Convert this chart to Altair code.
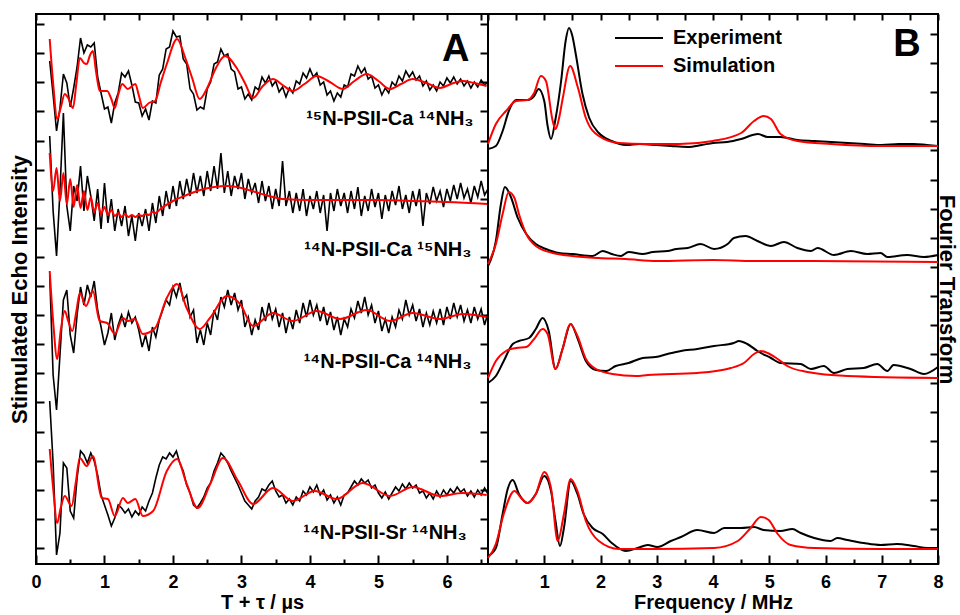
import altair as alt
import numpy as np
import pandas as pd

FONT = "Liberation Sans"

# ---------------- Panel A : time domain (stimulated echo) ----------------
trace_names = ["15N-PSII-Ca 14NH3", "14N-PSII-Ca 15NH3", "14N-PSII-Ca 14NH3", "14N-PSII-Sr 14NH3"]
trace_baseline = [481, 363, 249, 71]          # vertical offset of each trace (a.u.)

t_start, t_step = 0.20, 0.05                  # sampling of the experimental traces (us)

exp1 = [22, -12, -48, -25, 9, 0, -24, -5, 16, 45,
        30, 38, 36, 40, 6, -10, -26, -24, -40, -20,
        -10, 10, 6, 12, -2, -19, -20, -33, -26, -37,
        -18, -20, 8, 14, 34, 36, 52, 46, 47, 24,
        19, -6, -11, -27, -24, -26, -6, 1, 19, 21,
        34, 27, 29, 14, 11, -6, -4, -16, -11, -17,
        -4, -7, 6, 0, 7, -3, 2, -9, -4, -14,
        -5, -10, 2, -1, 10, 5, 14, 6, 10, -2,
        1, -12, -8, -18, -10, -14, -2, -4, 9, 7,
        17, 10, 15, 4, 7, -5, -2, -12, -5, -10,
        1, -3, 7, 2, 12, 6, 11, 3, 7, -3,
        2, -7, -2, -8, 1, -3, 5, 0, 6, -1,
        4, -3, 2, -5, 1, -4, 3, -2, 1]
exp2 = [65, -10, -55, 10, 88, -5, -30, 15, 0, 35,
        -10, 25, 5, -20, 12, -28, 18, -22, 2, -30,
        -8, -25, -5, -35, -15, -40, -12, -25, -8, -30,
        -2, -22, 5, -15, 10, -8, 15, -5, 20, 2,
        22, 5, 28, 8, 25, 5, 30, 10, 35, 12,
        48, 8, 30, 5, 25, 12, 28, 2, 22, 8,
        18, -2, 20, 0, 15, -8, 12, -5, 40, -5,
        10, -12, 8, -10, 12, -15, 5, -8, 10, -12,
        6, -30, 8, -10, 12, -5, 8, -12, 10, -8,
        14, -15, 5, -10, 12, -6, 8, -18, 6, -10,
        10, -4, 15, -8, 6, -12, 10, -5, 12, -25,
        8, -3, 14, 0, 10, -6, 12, 0, 16, 2,
        18, 3, 12, -2, 15, 4, 20, 6, 12]
exp3 = [40, -60, -95, -40, 15, 25, -20, -38, 0, 28,
        10, 30, 18, 34, 5, -12, -30, -18, 2, -25,
        -10, 0, -12, 3, -8, -2, -15, -32, -20, -36,
        -12, -22, -5, 5, 15, 10, 28, 18, 32, 15,
        20, -2, 5, -28, -15, -30, -8, -20, 5, -5,
        18, 8, 25, 10, 22, 5, 15, -12, -2, -20,
        -5, -15, 8, -6, 12, -4, 6, -12, 2, -18,
        -2, -14, 5, -8, 12, -2, 15, 0, 10, -6,
        8, -10, 3, -15, -2, -20, -4, -12, 6, -3,
        14, 2, 18, 0, 10, -8, 4, -16, -4, -18,
        -2, -12, 5, -4, 15, 0, 10, -6, 6, -12,
        2, -10, 4, -8, 6, -10, 8, -4, 12, -2,
        10, -6, 5, -8, 8, -4, 6, -10, 2]
exp4 = [92, 30, -62, -40, 30, 25, -18, -25, 15, 42,
        38, 30, 40, 32, 18, -2, -12, -22, -33, -25,
        -12, -15, -20, -16, -24, -18, -22, -14, -18, -8,
        0, 15, 28, 36, 34, 40, 36, 42, 30, 22,
        8, 0, -12, -15, -10, -4, 5, 10, 22, 30,
        40, 36, 30, 22, 15, 8, 0, -8, -12, -16,
        -8, -4, 4, 2, 8, 12, 2, -4, -2, -10,
        -6, -12, -4, -8, 2, -2, 6, 1, 8, -2,
        3, -7, -2, -10, -4, -12, -2, 0, 6, 12,
        8, 14, 10, 13, 5, 8, 0, -5, 1, -6,
        0, 6, 2, 9, 4, 10, 5, 8, 0, 2,
        -5, 0, -6, 2, -4, 3, -2, 4, 0, 6,
        1, 4, -3, 2, -4, 3, -2, 5, -1]

sim1_t = [0.20, 0.25, 0.31, 0.36, 0.42, 0.47, 0.54, 0.59, 0.64, 0.70,
          0.74, 0.79, 0.83, 0.88, 0.93, 1.04, 1.10, 1.15, 1.20, 1.26,
          1.34, 1.45, 1.50, 1.56, 1.65, 1.74, 1.82, 1.91, 2.06, 2.18,
          2.28, 2.39, 2.50, 2.62, 2.76, 2.93, 3.05, 3.17, 3.30, 3.46,
          3.60, 3.75, 3.92, 4.10, 4.29, 4.48, 4.65, 4.83, 5.00, 5.17,
          5.33, 5.50, 5.70, 5.90, 6.06, 6.23, 6.40, 6.58]
sim1 = [44, 0, -36, -25, -11, -15, -25, 0, 25, 20,
        19, 28, 32, 10, -8, -8, -16, -25, -12, -1,
        -6, -1, -12, -25, -20, -18, 0, 19, 44, 25,
        5, -16, -5, 14, 27, 15, 0, -15, -4, 4,
        -2, -8, -1, 7, 1, -6, 2, 9, 2, -6,
        -1, 4, 0, -5, -1, 2, 0, -3]
sim2_t = [0.20, 0.25, 0.30, 0.35, 0.40, 0.45, 0.50, 0.55, 0.60, 0.65,
          0.70, 0.75, 0.80, 0.85, 0.90, 0.95, 1.00, 1.05, 1.10, 1.15,
          1.20, 1.25, 1.30, 1.35, 1.40, 1.45, 1.50, 1.55, 1.60, 1.65,
          1.70, 1.75, 1.80, 2.00, 2.20, 2.40, 2.60, 2.80, 3.00, 3.20,
          3.40, 3.60, 4.00, 4.50, 5.00, 5.50, 6.00, 6.60]
sim2 = [48, 10, 33, 0, 28, -3, 22, -6, 16, -7,
        10, -9, 4, -11, -2, -13, -6, -14, -9, -15,
        -12, -16, -13, -16, -14, -16, -14, -15, -13, -14,
        -11, -12, -9, 0, 6, 11, 14, 15, 13, 9,
        5, 2, 1, 1, 1, 0, -1, -3]
sim3_t = [0.20, 0.25, 0.31, 0.36, 0.42, 0.47, 0.53, 0.59, 0.64, 0.73,
          0.83, 0.93, 1.04, 1.15, 1.27, 1.34, 1.44, 1.56, 1.74, 1.91,
          2.06, 2.20, 2.39, 2.54, 2.79, 2.98, 3.17, 3.46, 3.75, 4.10,
          4.44, 4.83, 5.17, 5.50, 5.90, 6.23, 6.58]
sim3 = [44, -6, -44, -16, 4, -6, -16, 4, 22, 9,
        24, -6, -8, -19, -3, -6, -4, -19, -13, 17,
        31, 7, -14, -3, 19, 11, -11, 2, -6, 4,
        -4, 5, -6, 2, -4, 1, -2]
sim4_t = [0.20, 0.25, 0.31, 0.36, 0.42, 0.52, 0.58, 0.64, 0.74, 0.83,
          0.96, 1.05, 1.15, 1.27, 1.34, 1.45, 1.56, 1.71, 1.91, 2.06,
          2.20, 2.36, 2.55, 2.73, 2.95, 3.17, 3.46, 3.75, 4.07, 4.39,
          4.77, 5.17, 5.50, 5.90, 6.23, 6.58]
sim4 = [44, 5, -30, -15, -3, -13, 10, 35, 27, 37,
        -5, -6, -23, -5, -10, -6, -23, -18, 22, 34,
        9, -15, 10, 35, 12, -11, 5, -8, 2, -6,
        10, -3, 6, -3, 0, -2]

sample_labels = ["¹⁵N-PSII-Ca ¹⁴NH₃", "¹⁴N-PSII-Ca ¹⁵NH₃", "¹⁴N-PSII-Ca ¹⁴NH₃", "¹⁴N-PSII-Sr ¹⁴NH₃"]

# ---------------- Panel B : Fourier transforms ----------------
ftA_exp_f = [0.0, 0.14, 0.26, 0.37, 0.5, 0.7, 0.82, 0.9, 1.0, 1.06, 1.12, 1.2, 1.3, 1.38, 1.44, 1.5, 1.56,
             1.68, 1.8, 1.97, 2.2, 2.45, 2.7, 3.0, 3.25, 3.55, 3.8, 4.0, 4.25, 4.5, 4.8, 4.97, 5.2, 5.5,
             5.8, 6.1, 6.4, 6.7, 7.0, 7.3, 7.57, 7.8, 8.0]
ftA_exp = [415, 418, 433, 453, 464, 464, 468, 475, 463, 438, 425, 445, 483, 523, 536, 528, 510,
           470, 446, 431, 423, 419, 420, 419, 418, 417, 419, 421, 422, 425, 430, 427, 427, 424,
           423, 422, 421, 420, 419, 420, 420, 419, 418]
ftA_sim_f = [0.0, 0.14, 0.32, 0.5, 0.7, 0.82, 0.94, 1.03, 1.15, 1.2, 1.26, 1.33, 1.46, 1.6, 1.74, 1.97,
             2.33, 2.8, 3.4, 4.0, 4.5, 4.73, 4.9, 5.03, 5.2, 5.5, 6.1, 7.0, 8.0]
ftA_sim = [420, 440, 453, 463, 464, 471, 488, 483, 443, 435, 445, 466, 498, 476, 446, 428,
           421, 420, 420, 423, 431, 443, 448, 445, 430, 423, 420, 418, 418]

ftB_exp_f = [0.0, 0.14, 0.23, 0.3, 0.4, 0.53, 0.68, 0.85, 1.03, 1.26, 1.5, 1.86, 2.04, 2.2, 2.36, 2.5,
             2.75, 2.93, 3.19, 3.35, 3.55, 3.78, 4.02, 4.26, 4.37, 4.58, 4.79, 5.03, 5.26, 5.5, 5.74,
             5.86, 6.15, 6.45, 6.74, 6.98, 7.1, 7.45, 7.75, 8.0]
ftB_exp = [298, 323, 360, 377, 368, 346, 330, 320, 315, 311, 310, 308, 313, 310, 308, 312,
           310, 312, 313, 315, 316, 320, 315, 320, 326, 328, 323, 318, 322, 316, 313,
           316, 309, 313, 310, 311, 307, 309, 307, 309]
ftB_sim_f = [0.0, 0.14, 0.26, 0.37, 0.47, 0.55, 0.68, 0.85, 1.15, 1.5, 1.97, 2.45, 3.0, 4.0, 4.73, 5.8, 8.0]
ftB_sim = [300, 320, 350, 372, 366, 350, 330, 318, 311, 308, 306, 305, 303, 304, 303, 303, 302]

ftC_exp_f = [0.0, 0.14, 0.28, 0.44, 0.55, 0.73, 0.85, 0.97, 1.08, 1.2, 1.33, 1.47, 1.59, 1.74, 1.92, 2.1,
             2.27, 2.5, 2.75, 2.98, 3.19, 3.43, 3.72, 4.02, 4.37, 4.46, 4.61, 4.79, 5.03, 5.2, 5.56,
             5.74, 5.97, 6.15, 6.39, 6.68, 6.92, 7.1, 7.21, 7.51, 7.75, 8.0]
ftC_exp = [181, 188, 203, 220, 223, 226, 235, 246, 233, 195, 216, 240, 226, 203, 194, 193,
           198, 201, 206, 207, 210, 213, 215, 218, 221, 223, 220, 213, 206, 201, 200,
           195, 198, 191, 195, 196, 200, 193, 199, 195, 190, 197]
ftC_sim_f = [0.0, 0.14, 0.32, 0.5, 0.68, 0.82, 0.97, 1.06, 1.2, 1.33, 1.46, 1.59, 1.74, 1.92, 2.21, 2.63,
             2.84, 3.72, 4.32, 4.55, 4.73, 4.85, 4.97, 5.15, 5.32, 5.68, 6.39, 8.0]
ftC_sim = [186, 203, 213, 216, 217, 225, 235, 230, 195, 216, 240, 228, 205, 195, 190, 188,
           189, 191, 196, 201, 210, 213, 211, 205, 198, 192, 188, 186]

ftD_exp_f = [0.0, 0.14, 0.26, 0.35, 0.44, 0.55, 0.7, 0.85, 1.0, 1.12, 1.2, 1.28, 1.35, 1.47, 1.59, 1.7,
             1.86, 2.04, 2.2, 2.45, 2.66, 2.84, 3.01, 3.25, 3.43, 3.72, 4.02, 4.2, 4.5, 4.73, 4.9, 5.2,
             5.41, 5.56, 5.8, 6.09, 6.21, 6.39, 6.68, 6.98, 7.27, 7.57, 7.81, 8.0]
ftD_exp = [8, 16, 50, 75, 84, 70, 61, 70, 88, 73, 43, 18, 36, 83, 70, 50,
           36, 30, 21, 13, 16, 19, 17, 23, 27, 34, 31, 36, 36, 37, 34, 33,
           35, 31, 26, 23, 26, 24, 21, 19, 20, 18, 16, 16]
ftD_sim_f = [0.0, 0.14, 0.28, 0.47, 0.59, 0.7, 0.85, 1.0, 1.12, 1.24, 1.35, 1.47, 1.59, 1.74, 1.97, 2.33,
             2.92, 4.02, 4.44, 4.67, 4.85, 4.99, 5.15, 5.38, 5.8, 6.98, 8.0]
ftD_sim = [6, 20, 50, 73, 66, 61, 70, 92, 76, 23, 50, 85, 73, 43, 23, 15,
           15, 16, 23, 36, 47, 44, 30, 19, 16, 15, 15]

series_names = ["Experiment", "Simulation"]
x_ticks_A = [0, 1, 2, 3, 4, 5, 6]
x_ticks_B = [1, 2, 3, 4, 5, 6, 7, 8]

# ---------------- tables ----------------
rows = []
for name, base, vals in zip(trace_names, trace_baseline, [exp1, exp2, exp3, exp4]):
    for i, d in enumerate(vals):
        rows.append({"t": round(t_start + t_step * i, 3), "v": base + d, "trace": name})
df_exp = pd.DataFrame(rows)

rows = []
for name, base, ts, vals in zip(trace_names, trace_baseline,
                                [sim1_t, sim2_t, sim3_t, sim4_t], [sim1, sim2, sim3, sim4]):
    for t, d in zip(ts, vals):
        rows.append({"t": t, "v": base + d, "trace": name})
df_sim = pd.DataFrame(rows)

df_lab = pd.DataFrame({"text": sample_labels,
                       "t": [6.39, 6.36, 6.36, 6.29],
                       "v": [439, 308, 196, 25]})
df_A = pd.DataFrame({"text": ["A"], "t": [6.13], "v": [503]})

rows = []
for name, fe, ve, fs, vs in zip(trace_names,
                                [ftA_exp_f, ftB_exp_f, ftC_exp_f, ftD_exp_f],
                                [ftA_exp, ftB_exp, ftC_exp, ftD_exp],
                                [ftA_sim_f, ftB_sim_f, ftC_sim_f, ftD_sim_f],
                                [ftA_sim, ftB_sim, ftC_sim, ftD_sim]):
    for f, v in zip(fe, ve):
        rows.append({"f": f, "v": v, "trace": name, "series": "Experiment"})
    for f, v in zip(fs, vs):
        rows.append({"f": f, "v": v, "trace": name, "series": "Simulation"})
df_ft = pd.DataFrame(rows)
df_B = pd.DataFrame({"text": ["B"], "f": [7.45], "v": [508]})

# ---------------- scales / axes ----------------
W_L, W_R, H = 452, 450, 550
sx_A = alt.Scale(domain=[0, 6.6], nice=False, zero=False)
sx_B = alt.Scale(domain=[0, 8], nice=False, zero=False)
sy = alt.Scale(domain=[0, 550], nice=False, zero=False)
y_ticks_left = [round(16 + 29.1 * k, 1) for k in range(19)]
y_ticks_right = [round(35.3 + 29.1 * k, 1) for k in range(18)]
half_A = [k * 0.5 for k in range(14)]
half_B = [k * 0.5 for k in range(17)]
minor_A = [k + 0.5 for k in range(7)]
minor_B = [k + 0.5 for k in range(8)]
color_scale = alt.Scale(domain=series_names, range=["black", "#ff0000"])

def ax(orient, values, size, **kw):
    return alt.Axis(orient=orient, values=values, tickSize=size, offset=-size, domain=False,
                    grid=False, tickColor="black", tickWidth=2, labelFlush=False,
                    labelOverlap=False, **kw)

# ---- left panel
a_black = alt.Chart(df_exp).mark_line(color="black", strokeWidth=1.6).encode(
    x=alt.X("t:Q", scale=sx_A,
            axis=ax("bottom", x_ticks_A, 9, labelPadding=9, title="T + τ / µs", titlePadding=1)),
    y=alt.Y("v:Q", scale=sy,
            axis=ax("left", y_ticks_left, 8, labels=False, title="Stimulated Echo Intensity",
                    titlePadding=4, titleFontSize=22)),
    detail="trace:N")
a_red = alt.Chart(df_sim).mark_line(color="#ff0000", strokeWidth=2, interpolate="monotone").encode(
    x=alt.X("t:Q", scale=sx_A, axis=ax("bottom", minor_A, 5, labels=False, title=None)),
    y=alt.Y("v:Q", scale=sy, axis=ax("right", y_ticks_left, 8, labels=False, title=None)),
    detail="trace:N")
a_lab = alt.Chart(df_lab).mark_text(align="right", baseline="alphabetic", font=FONT, fontSize=20,
                                    fontWeight="bold", color="black").encode(
    x=alt.X("t:Q", scale=sx_A, axis=ax("top", half_A, 6, labels=False, title=None)),
    y=alt.Y("v:Q", scale=sy, axis=None),
    text="text:N")
a_let = alt.Chart(df_A).mark_text(align="center", baseline="alphabetic", font=FONT, fontSize=38,
                                  fontWeight="bold", color="black").encode(
    x=alt.X("t:Q", scale=sx_A, axis=None), y=alt.Y("v:Q", scale=sy, axis=None), text="text:N")
left = alt.layer(a_black, a_red, a_lab, a_let).resolve_axis(x="independent", y="independent") \
    .properties(width=W_L, height=H)

# ---- right panel
legend = alt.Legend(title=None, orient="none", legendX=578, legendY=11, symbolType="stroke",
                    symbolSize=2304, symbolStrokeWidth=2, labelFont=FONT, labelFontSize=20,
                    labelFontWeight="bold", labelColor="black", labelOffset=9, rowPadding=2,
                    clipHeight=26, padding=0)
b_black = alt.Chart(df_ft[df_ft.series == "Experiment"]).mark_line(
    strokeWidth=2, interpolate="monotone").encode(
    x=alt.X("f:Q", scale=sx_B,
            axis=ax("bottom", x_ticks_B, 9, labelPadding=9, title="Frequency / MHz", titlePadding=1)),
    y=alt.Y("v:Q", scale=sy,
            axis=ax("right", y_ticks_right, 8, labels=False, title="Fourier Transform",
                    titlePadding=-5, titleFontSize=22)),
    color=alt.Color("series:N", scale=color_scale, legend=legend),
    detail="trace:N")
b_red = alt.Chart(df_ft[df_ft.series == "Simulation"]).mark_line(
    strokeWidth=2, interpolate="monotone").encode(
    x=alt.X("f:Q", scale=sx_B, axis=ax("bottom", minor_B, 5, labels=False, title=None)),
    y=alt.Y("v:Q", scale=sy, axis=None),
    color=alt.Color("series:N", scale=color_scale, legend=legend),
    detail="trace:N")
b_let = alt.Chart(df_B).mark_text(align="center", baseline="alphabetic", font=FONT, fontSize=38,
                                  fontWeight="bold", color="black").encode(
    x=alt.X("f:Q", scale=sx_B, axis=ax("top", half_B, 6, labels=False, title=None)),
    y=alt.Y("v:Q", scale=sy, axis=None), text="text:N")
right = alt.layer(b_black, b_red, b_let).resolve_axis(x="independent", y="independent") \
    .properties(width=W_R, height=H)

chart = alt.hconcat(left, right, spacing=0, bounds="flush").configure_view(
    stroke="black", strokeWidth=2
).configure_axis(
    labelFont=FONT, labelFontSize=18, labelFontWeight="bold", labelColor="black",
    titleFont=FONT, titleFontSize=20, titleFontWeight="bold", titleColor="black"
).properties(
    padding={"left": 7, "top": 12, "right": 0, "bottom": 0},
    background="white"
)

chart.save("out.html", embed_options={"renderer": "svg", "actions": False})
